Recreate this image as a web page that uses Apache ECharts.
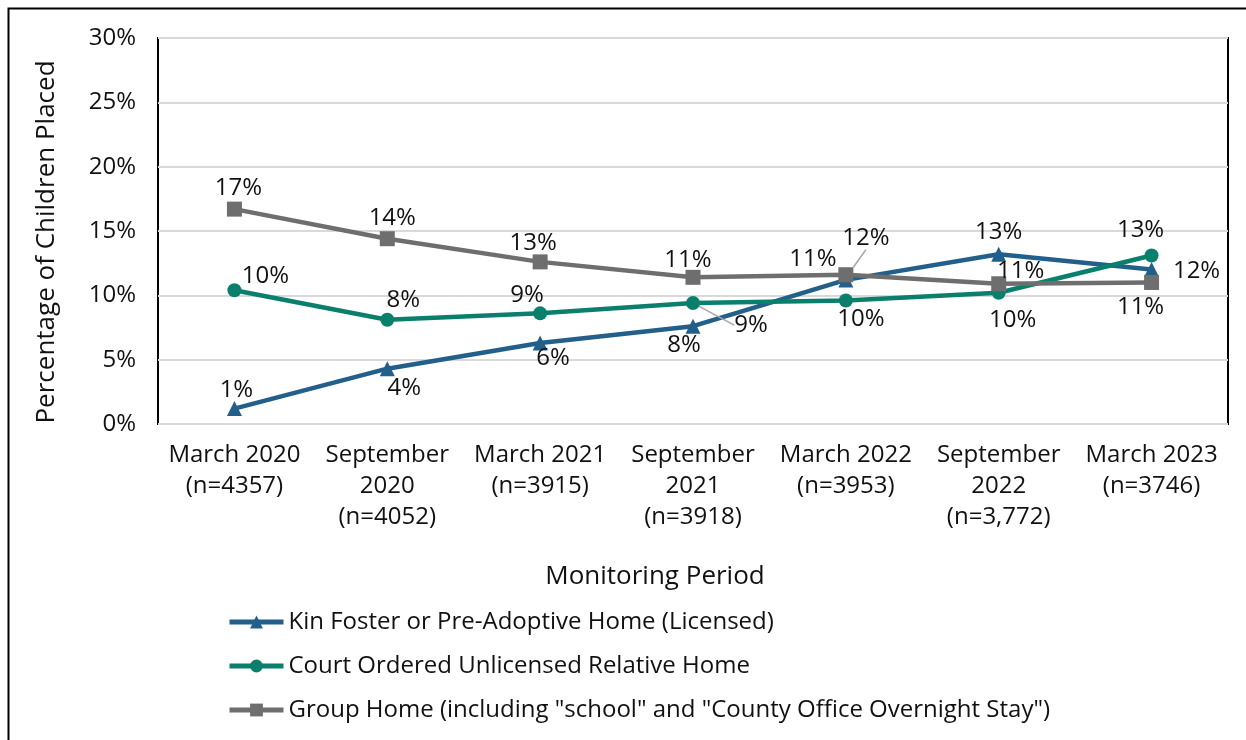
<!DOCTYPE html>
<html>
<head>
<meta charset="utf-8">
<script src="https://cdn.jsdelivr.net/npm/echarts@6/dist/echarts.min.js"></script>
<style>
  html, body { margin: 0; padding: 0; background: #fff; }
  #chart { width: 1246px; height: 740px; }
</style>
</head>
<body>
<div id="chart"></div>
<script>
    'use strict';

    // monitoring periods (x axis)
    var periods = [
        'March 2020\n(n=4357)',
        'September\n2020\n(n=4052)',
        'March 2021\n(n=3915)',
        'September\n2021\n(n=3918)',
        'March 2022\n(n=3953)',
        'September\n2022\n(n=3,772)',
        'March 2023\n(n=3746)'
    ];

    var seriesNames = [
        'Kin Foster or Pre-Adoptive Home (Licensed)',
        'Court Ordered Unlicensed Relative Home',
        'Group Home (including "school" and "County Office Overnight Stay")'
    ];

    // percent of children placed
    var kinFoster = [1.2, 4.3, 6.3, 7.6, 11.2, 13.2, 12.0];
    var courtOrdered = [10.4, 8.1, 8.6, 9.4, 9.6, 10.2, 13.1];
    var groupHome = [16.7, 14.4, 12.6, 11.4, 11.6, 10.9, 11.0];

    var yTicks = [0, 5, 10, 15, 20, 25, 30];

    // label offsets from each point [dx, dy], and which ones get a leader line
    var labelOffsets = [
        [[2, -18], [17, 19], [13, 15], [-9, 19], [-33, -21], [0, -22], [45, 2]],
        [[31, -14], [16, -20], [-13, -18], [58, 22], [15, 19], [14, 27], [-11, -25]],
        [[4, -21], [5, -21], [-7, -19], [-5, -17], [20, -37], [22, -13], [-11, 25]]
    ];
    var leaders = [[], [3], [4]];

    var colors = ['#225f8a', '#0a7f6b', '#6e6e6e'];
    var symbols = ['triangle', 'circle', 'rect'];
    var symbolSizes = [15, 14, 15];
    var FONT = '"Open Sans", sans-serif';

    var chart = echarts.init(document.getElementById('chart'));

    function buildSeries(idx, values) {
        return {
            name: seriesNames[idx],
            type: 'line',
            data: values.map(function(v, i) {
                var item = { value: v };
                if (leaders[idx].indexOf(i) >= 0) {
                    item.labelLine = { show: true, lineStyle: { color: '#a6a6a6', width: 1.5 } };
                }
                return item;
            }),
            color: colors[idx],
            symbol: symbols[idx],
            symbolSize: symbolSizes[idx],
            lineStyle: { width: 4.5, color: colors[idx] },
            itemStyle: { color: colors[idx] },
            z: 2 + idx,
            label: {
                show: true,
                position: 'inside',
                color: '#111',
                fontFamily: FONT,
                fontSize: 24,
                formatter: function(p) {
                    return Math.round(p.value) + '%';
                }
            },
            labelLayout: function(p) {
                var off = labelOffsets[idx][p.dataIndex];
                return { dx: off[0], dy: off[1] };
            },
            emphasis: { disabled: true }
        };
    }

    chart.setOption({
        animation: false,
        grid: {
            left: 158, top: 38, right: 18, bottom: 316,
            show: true, borderColor: '#000', borderWidth: 2
        },
        graphic: [
            {
                type: 'rect',
                shape: { x: 8.5, y: 8.5, width: 1260, height: 800 },
                style: { fill: 'none', stroke: '#000', lineWidth: 2 }
            },
            {
                type: 'text',
                x: 655, y: 577,
                style: {
                    text: 'Monitoring Period',
                    fontFamily: FONT, fontSize: 26, fill: '#111',
                    align: 'center', verticalAlign: 'middle'
                }
            }
        ],
        legend: {
            orient: 'vertical',
            left: 227, top: 609,
            padding: 0,
            itemWidth: 54, itemHeight: 16,
            itemGap: 18,
            lineStyle: { width: 5 },
            textStyle: { fontFamily: FONT, fontSize: 24, color: '#111', lineHeight: 26 },
            data: seriesNames
        },
        xAxis: {
            type: 'category',
            data: periods,
            boundaryGap: true,
            axisLine: { show: false },
            axisTick: { show: false },
            axisLabel: {
                interval: 0, margin: 16,
                fontFamily: FONT, fontSize: 24, color: '#111', lineHeight: 31
            }
        },
        yAxis: {
            type: 'value',
            min: 0, max: 30, interval: 5,
            name: 'Percentage of Children Placed',
            nameLocation: 'middle',
            nameGap: 98,
            nameTextStyle: {
                fontFamily: FONT, fontSize: 26, color: '#111',
                padding: [0, 22, 0, 0]
            },
            axisLine: { show: false },
            axisTick: { show: false },
            splitLine: { lineStyle: { color: '#d9d9d9', width: 2 } },
            axisLabel: {
                margin: 22,
                fontFamily: FONT, fontSize: 24, color: '#111',
                formatter: function(v) {
                    return yTicks.indexOf(v) >= 0 ? v + '%' : '';
                }
            }
        },
        series: [
            buildSeries(0, kinFoster),
            buildSeries(1, courtOrdered),
            buildSeries(2, groupHome)
        ]
    });
</script>
</body>
</html>
